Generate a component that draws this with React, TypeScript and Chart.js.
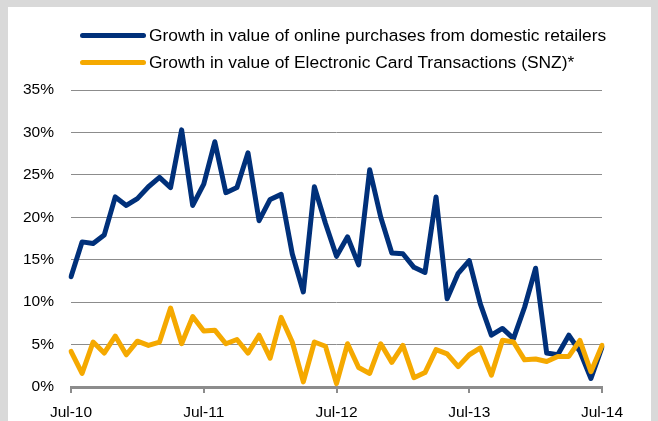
import React, { useEffect, useRef } from "react";
import { Chart, registerables } from "chart.js";

Chart.register(...registerables);

const monthNames = ["Jan", "Feb", "Mar", "Apr", "May", "Jun", "Jul", "Aug", "Sep", "Oct", "Nov", "Dec"];
const yearTickLabels = ["Jul-10", "Jul-11", "Jul-12", "Jul-13", "Jul-14"];

const categories: string[] = [];
for (let i = 0; i < 49; i++) {
  const m = (6 + i) % 12;
  const y = 10 + Math.floor((6 + i) / 12);
  categories.push(`${monthNames[m]}-${y}`);
}

const onlineLabel = "Growth in value of online purchases from domestic retailers";
const ectLabel = "Growth in value of Electronic Card Transactions (SNZ)*";

const onlineGrowth = [
  13.0, 17.1, 16.9, 17.9, 22.4, 21.4, 22.2, 23.6, 24.7, 23.5, 30.3, 21.4,
  23.9, 28.9, 22.9, 23.5, 27.6, 19.6, 22.1, 22.7, 15.7, 11.2, 23.6, 19.3,
  15.4, 17.7, 14.4, 25.6, 20.0, 15.8, 15.7, 14.1, 13.5, 22.4, 10.4, 13.4,
  14.9, 9.8, 6.1, 6.9, 5.7, 9.4, 14.0, 4.0, 3.8, 6.1, 4.2, 1.0, 4.7,
];

const ectGrowth = [
  4.2, 1.6, 5.3, 4.0, 6.0, 3.8, 5.4, 4.9, 5.3, 9.3, 5.1, 8.3,
  6.6, 6.7, 5.1, 5.6, 4.0, 6.1, 3.4, 8.2, 5.3, 0.6, 5.3, 4.8,
  0.4, 5.1, 2.3, 1.6, 5.1, 2.9, 4.9, 1.1, 1.7, 4.4, 3.9, 2.4,
  3.8, 4.6, 1.4, 5.5, 5.3, 3.2, 3.3, 3.0, 3.6, 3.6, 5.5, 1.8, 4.9,
];

const BLUE = "#00307a";
const YELLOW = "#f5a900";
const GRID = "#8c8c8c";
const FONT = "'Liberation Sans', Arial, sans-serif";
const FONT_SIZE = 15.5;
const LEGEND_FONT_SIZE = 17.4;

export default function App() {
  const canvasRef = useRef<HTMLCanvasElement | null>(null);

  useEffect(() => {
    if (!canvasRef.current) return;
    const chart = new Chart(canvasRef.current, {
      type: "line",
      data: {
        labels: categories,
        datasets: [
          {
            label: ectLabel,
            data: ectGrowth,
            borderColor: YELLOW,
            backgroundColor: YELLOW,
            borderWidth: 5,
            pointRadius: 0,
            tension: 0,
            borderCapStyle: "round",
            borderJoinStyle: "round",
            order: 0,
          },
          {
            label: onlineLabel,
            data: onlineGrowth,
            borderColor: BLUE,
            backgroundColor: BLUE,
            borderWidth: 5,
            pointRadius: 0,
            tension: 0,
            borderCapStyle: "round",
            borderJoinStyle: "round",
            order: 1,
          },
        ],
      },
      options: {
        responsive: false,
        animation: false,
        devicePixelRatio: 1,
        layout: { padding: { top: 83, right: 49, bottom: 0, left: 0 } },
        plugins: { legend: { display: false }, tooltip: { enabled: false } },
        scales: {
          x: {
            type: "category",
            offset: false,
            afterFit: (s: any) => {
              s.height = 34;
            },
            grid: {
              drawOnChartArea: false,
              drawTicks: true,
              tickLength: 6,
              color: (ctx: any) => (ctx.index % 12 === 0 ? GRID : "rgba(0,0,0,0)"),
              lineWidth: 2,
            },
            border: { display: true, color: GRID, width: 3 },
            ticks: {
              autoSkip: false,
              maxRotation: 0,
              padding: 10,
              color: "#000",
              font: { family: FONT, size: FONT_SIZE },
              callback: (_v: any, i: number) => (i % 12 === 0 ? yearTickLabels[i / 12] : ""),
            },
          },
          y: {
            min: 0,
            max: 35,
            afterFit: (s: any) => {
              s.width = 63;
            },
            grid: { color: GRID, lineWidth: 1, drawTicks: false },
            border: { display: false },
            ticks: {
              stepSize: 5,
              padding: 17,
              color: "#000",
              font: { family: FONT, size: FONT_SIZE },
              callback: (v: any) => `${v}%`,
            },
          },
        },
      },
    });
    return () => chart.destroy();
  }, []);

  const legendRow = (color: string, text: string, top: number) => (
    <div style={{ position: "absolute", left: 72, top: top - 12, height: 24, display: "flex", alignItems: "center" }}>
      <div style={{ width: 66, height: 5, borderRadius: 3, background: color }} />
      <span
        style={{
          marginLeft: 3,
          fontFamily: FONT,
          fontSize: LEGEND_FONT_SIZE,
          color: "#000",
          whiteSpace: "nowrap",
        }}
      >
        {text}
      </span>
    </div>
  );

  return (
    <div style={{ position: "fixed", left: 0, top: 0, width: 658, height: 421, background: "#d9d9d9" }}>
      <div style={{ position: "absolute", left: 8, top: 7, width: 643, height: 414, background: "#fff" }}>
        <canvas ref={canvasRef} width={643} height={414} style={{ position: "absolute", left: 0, top: 0, width: 643, height: 414 }} />
        {legendRow(BLUE, onlineLabel, 28)}
        {legendRow(YELLOW, ectLabel, 55)}
      </div>
    </div>
  );
}
